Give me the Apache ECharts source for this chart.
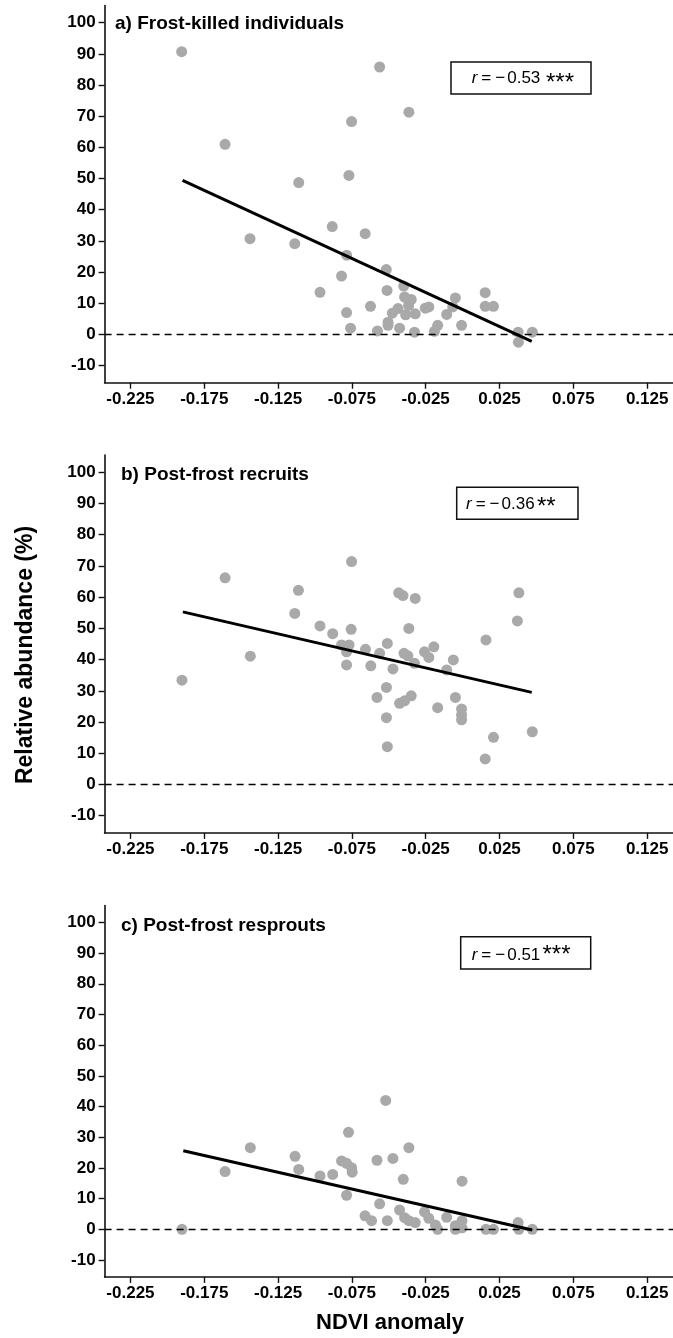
<!DOCTYPE html>
<html><head><meta charset="utf-8">
<script src="https://cdn.jsdelivr.net/npm/echarts@6/dist/echarts.min.js"></script>
<style>html,body{margin:0;padding:0;background:#fff}#c{width:673px;height:1338px}</style>
</head><body><div id="c"></div>
<script>
// ---- tick labels ----
const xTicks = [-0.225, -0.175, -0.125, -0.075, -0.025, 0.025, 0.075, 0.125];
const yTicks = [-10, 0, 10, 20, 30, 40, 50, 60, 70, 80, 90, 100];

// ---- panel texts ----
const panelTitles = ['a) Frost-killed individuals', 'b) Post-frost recruits', 'c) Post-frost resprouts'];
const rValues = ['−0.53', '−0.36', '−0.51'];
const rStars = ['***', '**', '***'];
const yAxisTitle = 'Relative abundance (%)';
const xAxisTitle = 'NDVI anomaly';

// ---- a) Frost-killed individuals ----
const killedX = [-0.1903,-0.1609,-0.144,-0.111,-0.1137,-0.0883,-0.0966,-0.082,-0.0562,-0.0364,-0.0752,-0.077,-0.066,-0.0786,-0.0517,-0.0512,-0.0624,-0.0786,-0.0759,-0.0577,-0.0505,-0.0505,-0.0476,-0.0438,-0.0393,-0.0348,-0.0366,-0.0386,-0.0427,-0.0321,-0.0326,-0.0399,-0.0253,-0.0229,-0.0191,-0.0169,-0.0108,-0.0067,-0.0049,-0.0007,0.0153,0.0153,0.0209,0.0376,0.0378,0.0472];
const killedY = [90.7,61.0,30.7,48.7,29.1,34.6,13.5,18.7,85.8,71.3,68.3,51.0,32.3,25.4,20.8,14.1,9.0,7.0,2.0,1.1,3.9,2.9,6.8,8.3,12.0,11.2,9.3,6.3,2.0,6.6,0.7,15.5,8.4,8.8,1.0,2.9,6.4,8.8,11.7,2.9,13.4,9.0,9.0,0.7,-2.5,0.7];
const killedFitX = [-0.1897, 0.0468];
const killedFitY = [49.4, -2.25];

// ---- b) Post-frost recruits ----
const recruitsX = [-0.1901,-0.1609,-0.1438,-0.1112,-0.1137,-0.0966,-0.088,-0.0752,-0.0755,-0.082,-0.0769,-0.0786,-0.0786,-0.0658,-0.0622,-0.0562,-0.051,-0.0516,-0.058,-0.0516,-0.051,-0.0472,-0.0433,-0.0404,-0.0321,-0.0364,-0.0397,-0.0371,-0.0326,-0.0258,-0.0229,-0.0195,-0.0427,-0.0393,-0.0348,-0.0169,-0.0108,-0.0063,-0.0049,-0.0007,-0.0007,-0.0007,0.0158,0.0209,0.0153,0.0381,0.0371,0.0472];
const recruitsY = [33.4,66.2,41.1,62.2,54.8,50.8,48.3,71.4,49.7,44.7,44.7,42.5,38.3,43.3,38.0,42.0,45.2,31.1,27.9,21.4,12.1,37.0,61.4,60.5,59.6,50.0,42.0,41.2,38.8,42.5,40.7,44.1,26.0,26.8,28.4,24.6,36.7,39.9,27.9,24.2,22.3,20.7,46.3,15.1,8.2,61.4,52.4,16.9];
const recruitsFitX = [-0.1895, 0.0468];
const recruitsFitY = [55.3, 29.5];

// ---- c) Post-frost resprouts ----
const resproutsX = [-0.1901,-0.1609,-0.1438,-0.1135,-0.111,-0.0966,-0.088,-0.0773,-0.082,-0.0786,-0.0752,-0.0748,-0.0786,-0.058,-0.0521,-0.0562,-0.0661,-0.0617,-0.051,-0.0472,-0.0364,-0.0402,-0.0004,-0.0427,-0.0393,-0.0364,-0.0321,-0.0258,-0.0229,-0.0184,-0.0169,-0.0108,-0.0049,-0.0049,-0.0004,-0.0004,0.0158,0.0209,0.0376,0.0381,0.0472];
const resproutsY = [0,18.8,26.6,23.8,19.5,17.4,17.9,31.6,22.3,21.5,20.1,18.6,11.1,22.5,42.0,8.3,4.4,2.8,2.8,23.1,26.6,16.3,15.7,6.3,3.8,2.8,2.2,5.7,3.6,1.4,0,3.9,1.2,0,2.8,0.5,0,0,2.2,0,0];
const resproutsFitX = [-0.1892, 0.0472];
const resproutsFitY = [25.6, -0.2];

const panelsX = [killedX, recruitsX, resproutsX];
const panelsY = [killedY, recruitsY, resproutsY];
const fitsX = [killedFitX, recruitsFitX, resproutsFitX];
const fitsY = [killedFitY, recruitsFitY, resproutsFitY];

// ---- layout (styles) ----
const FONT = '"Liberation Sans", Arial, sans-serif';
const grids = [
  {left: 104.6, top: 5.6, width: 570, height: 377.1},
  {left: 104.6, top: 455.1, width: 570, height: 377.8},
  {left: 104.6, top: 905.5, width: 570, height: 371.4}
];
const boxes = [
  {x: 451, y: 62, w: 140, h: 32, tx: 471.7, ty: 78, sx: 546, sy: 83},
  {x: 456.7, y: 487.3, w: 121.3, h: 32, tx: 466, ty: 504.5, sx: 537, sy: 507},
  {x: 460.7, y: 936.7, w: 130, h: 32.3, tx: 471.7, ty: 955.5, sx: 542.5, sy: 955.5}
];
const titlePos = [{x: 115, y: 24}, {x: 121, y: 475}, {x: 121, y: 925.5}];

const xAxes = [], yAxes = [], series = [], graphics = [];
for (let i = 0; i < 3; i++) {
  xAxes.push({
    type: 'value', gridIndex: i, min: -0.2425, max: 0.1425,
    axisLine: {show: true, onZero: false, lineStyle: {color: '#111', width: 1.6}},
    axisTick: {show: true, length: 6, lineStyle: {color: '#111', width: 1.4}, customValues: xTicks},
    axisLabel: {customValues: xTicks, formatter: v => v.toFixed(3), color: '#000', fontFamily: FONT, fontWeight: 'bold', fontSize: 17, margin: 8},
    splitLine: {show: false}
  });
  yAxes.push({
    type: 'value', gridIndex: i, min: -15.5, max: 105.5,
    axisLine: {show: true, onZero: false, lineStyle: {color: '#111', width: 1.6}},
    axisTick: {show: true, length: 6, lineStyle: {color: '#111', width: 1.4}, customValues: yTicks},
    axisLabel: {customValues: yTicks, formatter: v => String(v), color: '#000', fontFamily: FONT, fontWeight: 'bold', fontSize: 17, margin: 9},
    splitLine: {show: false}
  });
  series.push({
    type: 'scatter', xAxisIndex: i, yAxisIndex: i, symbol: 'circle', symbolSize: 11,
    itemStyle: {color: '#a9a9a9', opacity: 1},
    data: panelsX[i].map((x, k) => [x, panelsY[i][k]]), z: 2,
    markLine: {silent: true, symbol: ['none', 'none'], label: {show: false},
      lineStyle: {color: '#000', type: [7, 5], width: 1.3}, data: [{yAxis: 0}]}
  });
  series.push({
    type: 'line', xAxisIndex: i, yAxisIndex: i, showSymbol: false, symbol: 'none',
    lineStyle: {color: '#000', width: 3}, z: 5,
    data: fitsX[i].map((x, k) => [x, fitsY[i][k]])
  });
  graphics.push({type: 'text', x: titlePos[i].x, y: titlePos[i].y,
    style: {text: panelTitles[i], font: 'bold 19px ' + FONT, fill: '#000', verticalAlign: 'middle'}});
  const b = boxes[i];
  graphics.push({type: 'rect', shape: {x: b.x, y: b.y, width: b.w, height: b.h},
    style: {fill: '#fff', stroke: '#111', lineWidth: 1.5}, z: 10});
  graphics.push({type: 'text', x: b.tx, y: b.ty, z: 11,
    style: {text: '{r|r}{e|=}{m|' + rValues[i].charAt(0) + '}{n|' + rValues[i].slice(1) + '}',
      verticalAlign: 'middle', align: 'left',
      rich: {
        r: {fontFamily: FONT, fontStyle: 'italic', fontSize: 17, fill: '#000'},
        e: {fontFamily: FONT, fontSize: 17, padding: [0, 4, 0, 4], fill: '#000'},
        m: {fontFamily: FONT, fontSize: 17, padding: [0, 2, 0, 0], fill: '#000'},
        n: {fontFamily: FONT, fontSize: 17, fill: '#000'}
      }}});
  graphics.push({type: 'text', x: b.sx, y: b.sy, z: 11,
    style: {text: rStars[i], font: '24px ' + FONT, fill: '#000', verticalAlign: 'middle', align: 'left'}});
}
graphics.push({type: 'text', x: 26, y: 655, rotation: Math.PI / 2,
  style: {text: yAxisTitle, font: 'bold 23px ' + FONT, fill: '#000', align: 'center', verticalAlign: 'middle'}});
graphics.push({type: 'text', x: 390, y: 1323,
  style: {text: xAxisTitle, font: 'bold 22px ' + FONT, fill: '#000', align: 'center', verticalAlign: 'middle'}});

const chart = echarts.init(document.getElementById('c'), null, {renderer: 'canvas'});
chart.setOption({
  animation: false,
  backgroundColor: '#fff',
  grid: grids,
  xAxis: xAxes,
  yAxis: yAxes,
  series: series,
  graphic: graphics
});
</script>
</body></html>
